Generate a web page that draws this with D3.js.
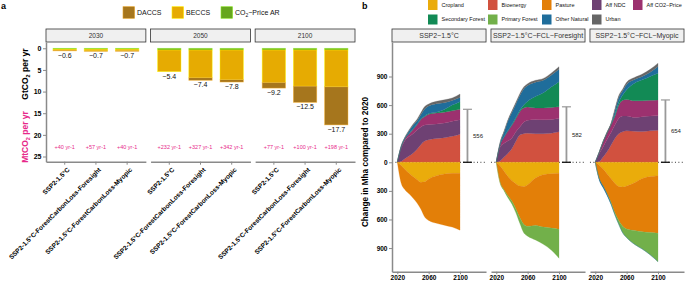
<!DOCTYPE html>
<html><head><meta charset="utf-8">
<script src="https://cdn.jsdelivr.net/npm/d3@7"></script>
<style>
body{margin:0;background:#fff}
svg{display:block}
text{font-family:"Liberation Sans",Arial,Helvetica,sans-serif}
</style>
</head><body>
<svg id="c" width="685" height="281"></svg>
<script>
// ---------- Panel a data ----------
const aYears = ["2030","2050","2100"];
const aScenarios = ["SSP2-1.5°C","SSP2-1.5°C-ForestCarbonLoss-Foresight","SSP2-1.5°C-ForestCarbonLoss-Myopic"];
const arVals    = [[0.2,0.2,0.2],[0.4,0.4,0.4],[0.4,0.4,0.4]];
const beccsVals = [[0.25,0.4,0.35],[5.0,6.4,6.85],[7.5,8.35,8.5]];
const daccsVals = [[0.15,0.1,0.15],[0.0,0.6,0.55],[1.3,3.75,8.8]];
const arRates   = [[40,57,40],[232,327,342],[77,100,198]];
const aTicks = [0,5,10,15,20,25];

// ---------- Panel b data ----------
const bScenarios = ["SSP2−1.5°C","SSP2−1.5°C−FCL−Foresight","SSP2−1.5°C−FCL−Myopic"];
const bYears = [2020,2025,2030,2035,2040,2045,2050,2055,2060,2070,2080,2090,2100];
const cropland = [
 [0,-35,-75,-115,-150,-180,-210,-205,-175,-140,-122,-116,-115],
 [0,-40,-95,-150,-195,-225,-250,-255,-235,-165,-130,-120,-115],
 [0,-30,-70,-120,-170,-220,-255,-260,-250,-215,-170,-150,-140]];
const bioenergy = [
 [0,10,40,65,95,135,185,222,237,250,258,272,295],
 [0,15,55,95,145,220,285,300,305,300,300,305,320],
 [0,8,55,110,180,250,300,320,330,325,322,330,335]];
const pasture = [
 [0,-185,-215,-215,-225,-245,-280,-370,-435,-500,-538,-564,-597],
 [0,-175,-195,-205,-215,-265,-330,-395,-437,-497,-550,-570,-588],
 [0,-140,-180,-210,-250,-310,-355,-410,-450,-500,-560,-588,-605]];
const affNDC = [
 [0,140,190,205,205,200,185,168,160,152,154,158,152],
 [0,145,145,130,110,100,85,120,135,150,145,145,142],
 [0,82,105,130,130,140,160,165,155,145,156,155,155]];
const affCO2 = [
 [0,10,20,30,45,60,80,90,108,116,114,110,109],
 [0,25,65,105,135,140,160,150,140,120,125,125,120],
 [0,12,52,65,80,90,140,165,175,175,167,165,164]];
const secForest = [
 [0,2,2,3,3,3,5,6,7,7,29,60,80],
 [0,1,3,5,7,10,15,30,60,120,160,215,264],
 [0,1,2,3,5,20,30,55,100,185,220,250,280]];
const primForest = [
 [0,0,0,0,0,0,0,0,0,0,0,0,0],
 [0,-5,-10,-20,-30,-40,-60,-90,-103,-153,-180,-230,-304],
 [0,0,0,-3,-12,-20,-40,-70,-90,-145,-180,-232,-298]];
const otherNat = [
 [0,8,10,25,37,34,45,74,78,90,70,48,44],
 [0,19,50,100,128,142,155,170,165,150,130,122,129],
 [0,-15,-18,-15,-8,40,50,45,55,38,35,45,71]];
const urban = [
 [0,5,8,12,15,18,20,25,22,25,30,27,36],
 [0,10,12,15,15,18,20,20,20,20,20,23,28],
 [0,5,8,10,15,20,20,20,25,22,25,30,35]];
const errValues = [556,582,654];
const bTicks = [900,600,300,0,-300,-600,-900];
const bXTicks = [2020,2060,2100];

// ---------- Drawing ----------
const svg = d3.select("#c");
svg.append("rect").attr("width",685).attr("height",281).attr("fill","#fff");
const axisGray = "#8a8a8a";

function styleAxis(g){
  g.select(".domain").attr("stroke",axisGray).attr("stroke-width",1.5);
  g.selectAll(".tick line").attr("stroke",axisGray).attr("stroke-width",1);
  g.selectAll(".tick text").attr("fill","#000").attr("font-weight","bold");
}

// ===== Panel a =====
svg.append("text").attr("x",1).attr("y",9).attr("font-size",9).attr("font-weight","bold").text("a");

const aColors = {AR:"#66A61E", BECCS:"#E6AB02", DACCS:"#A6761D"};
const aKeys = ["AR","BECCS","DACCS"];
const aPanel = d3.scaleBand().domain(aYears).range([46,355]).paddingInner(0.045);
const aX = d3.scaleBand().domain(aScenarios).range([0,aPanel.bandwidth()]).paddingInner(0.25).paddingOuter(0.225);
const aY = d3.scaleLinear().domain([-1.45,26.2]).range([42,161.7]);

// legend a
const aLegend = [
  {k:"DACCS", x:123, label:"DACCS"},
  {k:"BECCS", x:172, label:"BECCS"},
  {k:"AR", x:221, label:"CO2"}
];
aLegend.forEach(l=>{
  svg.append("rect").attr("x",l.x).attr("y",6.7).attr("width",11.6).attr("height",11.6)
    .attr("fill",aColors[l.k]).attr("stroke",d3.color(aColors[l.k]).brighter(0.9)).attr("stroke-width",0.6);
  const t = svg.append("text").attr("x",l.x+14).attr("y",12.5).attr("dy","0.35em").attr("font-size",7).attr("fill","#111");
  if(l.k==="AR"){
    t.append("tspan").text("CO");
    t.append("tspan").attr("font-size",5).attr("dy",1.8).text("2");
    t.append("tspan").attr("dy",-1.8).text("−Price AR");
  } else t.text(l.label);
});

aYears.forEach((yr,i)=>{
  const g = svg.append("g").attr("transform",`translate(${aPanel(yr)},0)`);
  g.append("rect").attr("x",0).attr("y",29).attr("width",aPanel.bandwidth()).attr("height",13)
    .attr("fill","#f0f0f0").attr("stroke","#333").attr("stroke-width",0.8);
  g.append("text").attr("x",aPanel.bandwidth()/2).attr("y",35.5).attr("dy","0.35em")
    .attr("text-anchor","middle").attr("font-size",6.5).attr("fill","#333").text(yr);

  const rows = aScenarios.map((s,j)=>({scen:s, AR:arVals[i][j], BECCS:beccsVals[i][j], DACCS:daccsVals[i][j], rate:arRates[i][j]}));
  const stacked = d3.stack().keys(aKeys)(rows);
  stacked.forEach(ser=>{
    g.selectAll(null).data(ser).enter().append("rect")
      .attr("x",d=>aX(d.data.scen)).attr("width",aX.bandwidth())
      .attr("y",d=>aY(d[0])).attr("height",d=>Math.max(0,aY(d[1])-aY(d[0])))
      .attr("fill",aColors[ser.key])
      .attr("stroke",d3.color(aColors[ser.key]).brighter(1.2)).attr("stroke-opacity",0.6).attr("stroke-width",0.7);
  });
  rows.forEach(r=>{
    const tot = r.AR+r.BECCS+r.DACCS;
    g.append("text").attr("x",aX(r.scen)+aX.bandwidth()/2).attr("y",aY(tot)+1).attr("dy","0.85em")
      .attr("text-anchor","middle").attr("font-size",7).attr("fill","#111").text("−"+tot.toFixed(1));
    g.append("text").attr("x",aX(r.scen)+aX.bandwidth()/2).attr("y",aY(22.9)).attr("dy","0.35em")
      .attr("text-anchor","middle").attr("font-size",5.5).attr("fill","#E7298A").text("+"+r.rate+" yr-1");
  });

  const ax = g.append("g").attr("transform",`translate(0,${aY.range()[1]})`)
    .call(d3.axisBottom(aX).tickSize(3).tickSizeOuter(0));
  styleAxis(ax);
  ax.selectAll(".tick text").attr("font-size",6.5).attr("text-anchor","end")
    .attr("x",0).attr("y",0).attr("dy","0.75em").attr("transform","translate(2,5) rotate(-45)");
});
const aYAxis = svg.append("g").attr("transform","translate(46,0)")
  .call(d3.axisLeft(aY).tickValues(aTicks).tickSize(3).tickSizeOuter(0));
styleAxis(aYAxis);
aYAxis.selectAll(".tick text").attr("font-size",7).attr("x",-4.5);

// y titles a
const gt = svg.append("text").attr("transform","translate(28,74) rotate(-90)").attr("text-anchor","middle")
  .attr("font-size",8.5).attr("font-weight","bold").attr("fill","#000");
gt.append("tspan").text("GtCO");
gt.append("tspan").attr("font-size",5.5).attr("dy",2).text("2");
gt.append("tspan").attr("dy",-2).text(" per yr");
const mt = svg.append("text").attr("transform","translate(28,137) rotate(-90)").attr("text-anchor","middle")
  .attr("font-size",8.5).attr("font-weight","bold").attr("fill","#E7298A");
mt.append("tspan").text("MtCO");
mt.append("tspan").attr("font-size",5.5).attr("dy",2).text("2");
mt.append("tspan").attr("dy",-2).text(" per yr");

// ===== Panel b =====
svg.append("text").attr("x",362).attr("y",9).attr("font-size",9).attr("font-weight","bold").text("b");

const bKeys = ["Cropland","Bioenergy","Pasture","Aff NDC","Aff CO2-Price","Secondary Forest","Primary Forest","Other Natural","Urban"];
const bSeries = {"Cropland":cropland,"Bioenergy":bioenergy,"Pasture":pasture,"Aff NDC":affNDC,"Aff CO2-Price":affCO2,
  "Secondary Forest":secForest,"Primary Forest":primForest,"Other Natural":otherNat,"Urban":urban};
const bColors = {"Cropland":"#EAAC0B","Bioenergy":"#D1513F","Pasture":"#E37F08","Aff NDC":"#6E4173","Aff CO2-Price":"#9C316F",
  "Secondary Forest":"#128A55","Primary Forest":"#72B04A","Other Natural":"#1F6D9B","Urban":"#666666"};

// legend b
const legCols = [428,488,542,592,633];
const legRows = [["Cropland","Bioenergy","Pasture","Aff NDC","Aff CO2-Price"],["Secondary Forest","Primary Forest","Other Natural","Urban"]];
legRows.forEach((row,ri)=>{
  row.forEach((k,ci)=>{
    const x = legCols[ci], y = ri===0?0:14.5;
    svg.append("rect").attr("x",x).attr("y",y).attr("width",9.5).attr("height",10).attr("fill",bColors[k]);
    svg.append("text").attr("x",x+13.5).attr("y",y+5).attr("dy","0.35em").attr("font-size",5.5).attr("fill","#111")
      .text(k==="Aff CO2-Price"?"Aff CO2−Price":k);
  });
});

const bPanel = d3.scaleBand().domain(bScenarios).range([392,684]).paddingInner(0.05);
const bX = d3.scaleLinear().domain([2013.24,2013.24+bPanel.bandwidth()/0.784]).range([0,bPanel.bandwidth()]);
const bY = d3.scaleLinear().domain([-1148,1262]).range([271.7,42]);
const area = d3.area().curve(d3.curveMonotoneX)
  .x(d=>bX(d.data.year)).y0(d=>bY(d[0])).y1(d=>bY(d[1]));
const errYear = 2109.5;

bScenarios.forEach((sc,s)=>{
  const g = svg.append("g").attr("transform",`translate(${bPanel(sc)},0)`);
  const w = bPanel.bandwidth();
  g.append("rect").attr("x",0).attr("y",29).attr("width",w).attr("height",13)
    .attr("fill","#f0f0f0").attr("stroke","#333").attr("stroke-width",0.8);
  g.append("text").attr("x",w/2).attr("y",35.5).attr("dy","0.35em").attr("text-anchor","middle")
    .attr("font-size",7).attr("fill","#333").text(sc);

  // dotted zero line
  g.append("line").attr("x1",0).attr("x2",w).attr("y1",bY(0)).attr("y2",bY(0))
    .attr("stroke","#000").attr("stroke-width",0.8).attr("stroke-dasharray","1,2.4");

  const rows = bYears.map((yr,j)=>{const o={year:yr}; bKeys.forEach(k=>o[k]=bSeries[k][s][j]); return o;});
  const pos = d3.stack().keys(bKeys).value((d,k)=>Math.max(0,d[k]))(rows);
  const neg = d3.stack().keys(bKeys).value((d,k)=>Math.min(0,d[k]))(rows);
  [pos,neg].forEach(st=>{
    st.forEach(ser=>{
      if(ser.every(d=>Math.abs(d[1]-d[0])<1e-9)) return;
      g.append("path").datum(ser).attr("d",area).attr("fill",bColors[ser.key])
        .attr("stroke",bColors[ser.key]).attr("stroke-width",0.25);
    });
  });

  // error bar
  const ex = bX(errYear);
  g.append("line").attr("x1",ex).attr("x2",ex).attr("y1",bY(0)).attr("y2",bY(errValues[s]))
    .attr("stroke","#999").attr("stroke-width",1.8);
  g.append("line").attr("x1",ex-4.5).attr("x2",ex+4.5).attr("y1",bY(errValues[s])).attr("y2",bY(errValues[s]))
    .attr("stroke","#999").attr("stroke-width",1.2);
  g.append("line").attr("x1",ex-4.5).attr("x2",ex+4.5).attr("y1",bY(0)).attr("y2",bY(0))
    .attr("stroke","#111").attr("stroke-width",1.3);
  g.append("text").attr("x",ex+5.5).attr("y",bY(errValues[s]/2)).attr("dy","0.35em")
    .attr("font-size",6).attr("fill","#222").text(errValues[s]);

  const ax = g.append("g").attr("transform",`translate(0,${bY.range()[0]})`)
    .call(d3.axisBottom(bX).tickValues(bXTicks).tickFormat(d3.format("d")).tickSize(2.5).tickSizeOuter(0));
  styleAxis(ax);
  ax.selectAll(".tick text").attr("font-size",6.5).attr("y",3.5);
});
const bYAxis = svg.append("g").attr("transform","translate(392,0)")
  .call(d3.axisLeft(bY).tickValues(bTicks).tickFormat(d=>Math.abs(d)).tickSize(3).tickSizeOuter(0));
styleAxis(bYAxis);
bYAxis.selectAll(".tick text").attr("font-size",6.5).attr("x",-4.5);

svg.append("text").attr("transform","translate(368,162) rotate(-90)").attr("text-anchor","middle")
  .attr("font-size",8.2).attr("font-weight","bold").attr("fill","#000").text("Change in Mha compared to 2020");
</script>
</body></html>
